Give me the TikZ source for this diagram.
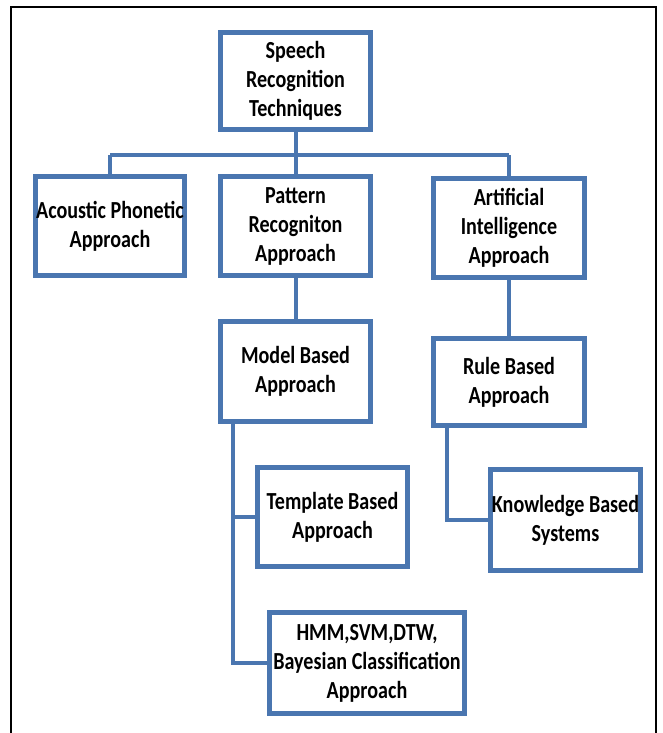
\documentclass[tikz,border=0pt]{standalone}
\usepackage{fontspec}
\usetikzlibrary{shadows}
\newfontfamily\boxfont[FakeStretch=0.82]{Carlito}
\definecolor{chartblue}{RGB}{74,118,176}
\begin{document}
\begin{tikzpicture}[x=1pt,y=-1pt,
  box/.style={draw=chartblue,line width=5pt,fill=white,inner sep=0pt,
    align=center,font=\boxfont\bfseries\fontsize{24.5}{29}\selectfont,
    drop shadow={shadow xshift=0.8pt,shadow yshift=-2pt,fill=black,opacity=0.22}},
  link/.style={draw=chartblue,line width=4pt}]
\useasboundingbox (0,0) rectangle (662,733);
\fill[white] (0,0) rectangle (662,733);
% outer frame
\draw[black,line width=1.6pt] (11,745) -- (11,7) -- (656,7) -- (656,745);

% connectors
\coordinate (bar) at (0,155);
\coordinate (mline) at (233,424);
\coordinate (rline) at (447,428);

% boxes
\node[box,minimum width=150pt,minimum height=97pt] (top) at (295.5,81)
  {Speech\\Recognition\\Techniques};
\node[box,minimum width=149pt,minimum height=99pt] (acoustic) at (110,226)
  {Acoustic Phonetic\\Approach};
\node[box,minimum width=150pt,minimum height=99pt] (pattern) at (295.5,226)
  {Pattern\\Recogniton\\Approach};
\node[box,minimum width=151pt,minimum height=99pt] (ai) at (509,228)
  {Artificial\\Intelligence\\Approach};
\node[box,minimum width=150pt,minimum height=100pt] (model) at (295.5,371.5)
  {Model Based\\Approach};
\node[box,minimum width=151pt,minimum height=87pt] (rule) at (509,382)
  {Rule Based\\Approach};
\node[box,minimum width=150pt,minimum height=99pt] (template) at (332.5,517)
  {Template Based\\Approach};
\node[box,minimum width=150pt,minimum height=101pt] (knowledge) at (565.5,520)
  {Knowledge Based\\Systems};
\node[box,minimum width=195pt,minimum height=101pt] (hmm) at (367,663)
  {HMM,SVM,DTW,\\Bayesian Classification\\Approach};

% tree links
\draw[link] (top.south) -- (top.south |- bar);
\draw[link] (acoustic.north |- bar) -- (ai.north |- bar);
\draw[link] (acoustic.north |- bar) -- (acoustic.north);
\draw[link] (pattern.north |- bar) -- (pattern.north);
\draw[link] (ai.north |- bar) -- (ai.north);
\draw[link] (pattern.south) -- (model.north);
\draw[link] (ai.south) -- (rule.north);
\draw[link] (mline) |- (template.west);
\draw[link] (mline) |- (hmm.west);
\draw[link] (rline) |- (knowledge.west);
\end{tikzpicture}
\end{document}
